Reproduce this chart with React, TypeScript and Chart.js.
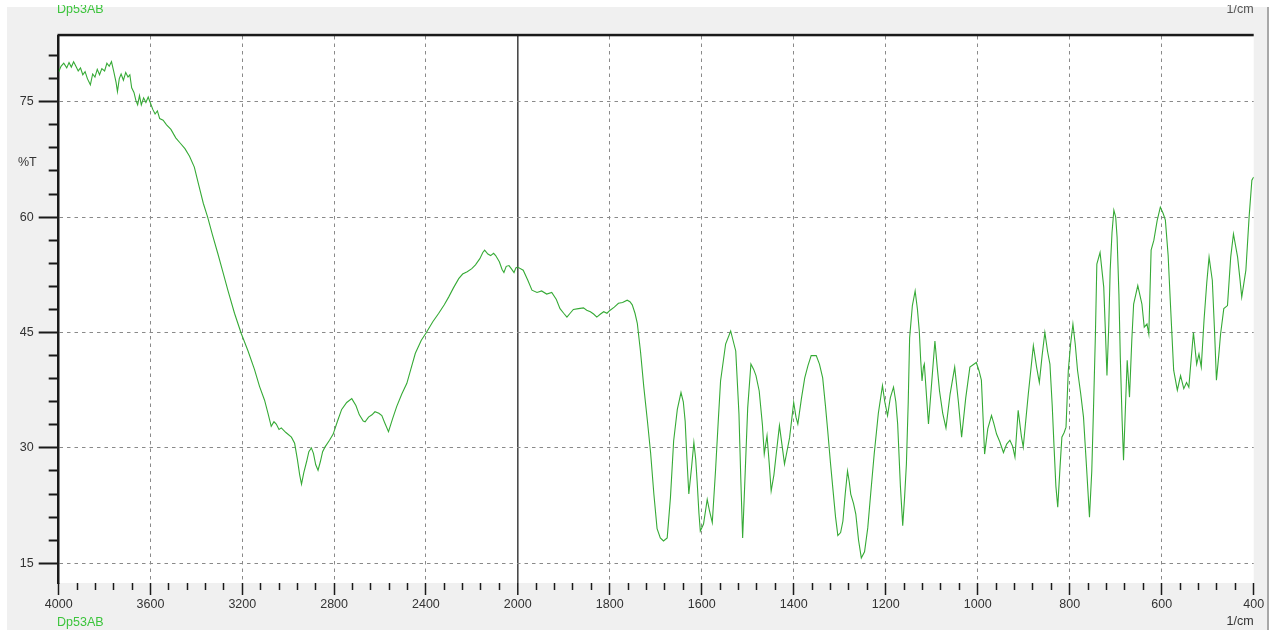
import React, { useEffect, useRef } from 'react';
import { Chart, registerables } from 'chart.js';

Chart.register(...registerables);

// ---- Data: 4000–2000 cm⁻¹ segment (left, compressed scale) ----
const HIGH_WAVENUMBERS = [
  4000, 3990, 3978, 3965, 3955, 3945, 3935, 3925, 3915, 3905, 3895, 3885, 3875, 3862, 3852, 3842,
  3832, 3822, 3812, 3800, 3790, 3780, 3770, 3760, 3750, 3744, 3736, 3728, 3718, 3708, 3698, 3690,
  3682, 3672, 3664, 3656, 3648, 3640, 3630, 3620, 3610, 3600, 3590, 3580, 3570, 3560, 3545, 3530,
  3511, 3490, 3470, 3450, 3430, 3409, 3390, 3370, 3351, 3330, 3307, 3285, 3263, 3234, 3205, 3175,
  3147, 3125, 3103, 3088, 3074, 3062, 3052, 3040, 3030, 3010, 2986, 2972, 2960, 2950, 2942, 2932,
  2920, 2910, 2899, 2890, 2880, 2870, 2860, 2850, 2840, 2820, 2804, 2785, 2767, 2745, 2723, 2705,
  2690, 2673, 2665, 2650, 2635, 2622, 2605, 2592, 2580, 2563, 2545, 2527, 2505, 2483, 2465, 2446,
  2420, 2398, 2370, 2344, 2320, 2301, 2280, 2257, 2240, 2220, 2200, 2184, 2165, 2152, 2144, 2130,
  2118, 2105, 2096, 2080, 2068, 2060, 2050, 2038, 2028, 2016, 2008, 2000,
];
const HIGH_TRANSMITTANCE = [
  78.9, 79.6, 80.0, 79.4, 80.1, 79.5, 80.2, 79.6, 79.0, 79.4, 78.5, 78.9, 78.0, 77.2, 78.6, 78.2,
  79.2, 78.5, 79.3, 79.0, 80.0, 79.6, 80.2, 78.9, 77.5, 76.3, 78.0, 78.6, 77.8, 78.8, 78.2, 78.5,
  76.8, 76.2, 75.2, 74.6, 75.8, 74.6, 75.5, 74.9, 75.6, 74.8, 74.0, 73.4, 73.8, 72.8, 72.6, 72.0,
  71.4, 70.3, 69.6, 68.9, 67.9, 66.5, 64.2, 61.8, 60.0, 57.7, 55.3, 52.9, 50.5, 47.5, 44.9, 42.6,
  40.2, 38.0, 36.2, 34.5, 32.8, 33.4, 33.1, 32.4, 32.6, 32.0, 31.4, 30.6, 28.5, 26.5, 25.3, 26.8,
  28.2, 29.5, 30.0, 29.3, 27.8, 27.1, 28.2, 29.5, 30.1, 31.0, 31.8, 33.5, 35.0, 35.9, 36.4, 35.5,
  34.3, 33.5, 33.4, 34.0, 34.3, 34.7, 34.5, 34.2, 33.3, 32.1, 33.8, 35.4, 37.0, 38.4, 40.3, 42.3,
  44.0, 45.0, 46.4, 47.5, 48.6, 49.6, 50.8, 52.0, 52.6, 52.9, 53.3, 53.8, 54.6, 55.4, 55.7, 55.2,
  55.0, 55.3, 55.0, 54.2, 53.2, 52.8, 53.6, 53.7, 53.3, 52.8, 53.4, 53.5,
];

// ---- Data: 2000–400 cm⁻¹ segment (right, expanded scale) ----
const LOW_WAVENUMBERS = [
  2000, 1988, 1978, 1969, 1958, 1948, 1937, 1926, 1916, 1908, 1900, 1893, 1886, 1879, 1868, 1857,
  1850, 1842, 1835, 1828, 1820, 1813, 1806, 1799, 1790, 1781, 1772, 1762, 1756, 1751, 1745, 1740,
  1733, 1726, 1718, 1711, 1704, 1697, 1690, 1683, 1675, 1668, 1661, 1653, 1645, 1640, 1636, 1632,
  1628, 1622, 1617, 1613, 1610, 1606, 1603, 1596, 1588, 1583, 1577, 1570, 1564, 1559, 1548, 1537,
  1526, 1519, 1515, 1511, 1505, 1500, 1493, 1487, 1482, 1475, 1468, 1464, 1458, 1453, 1449, 1443,
  1438, 1431, 1425, 1420, 1409, 1400, 1395, 1391, 1383, 1376, 1369, 1362, 1351, 1344, 1337, 1331,
  1326, 1320, 1315, 1309, 1304, 1298, 1293, 1288, 1283, 1279, 1276, 1270, 1265, 1259, 1253, 1246,
  1239, 1232, 1225, 1216, 1207, 1202, 1196, 1190, 1183, 1178, 1174, 1168, 1163, 1159, 1155, 1151,
  1148, 1142, 1136, 1131, 1127, 1124, 1121, 1118, 1116, 1111, 1107, 1100, 1093, 1088, 1083, 1076,
  1069, 1060, 1050, 1042, 1035, 1026, 1017, 1003, 997, 992, 988, 985, 978, 970, 965, 959,
  952, 944, 937, 930, 924, 919, 912, 905, 901, 890, 879, 872, 866, 860, 854, 848,
  843, 838, 834, 830, 826, 821, 817, 812, 808, 803, 798, 793, 788, 783, 776, 770,
  763, 757, 752, 748, 744, 741, 734, 726, 722, 719, 715, 712, 708, 704, 700, 697,
  693, 690, 686, 683, 679, 675, 670, 665, 661, 652, 643, 638, 632, 628, 623, 617,
  610, 603, 597, 592, 586, 581, 574, 566, 559, 552, 546, 541, 536, 531, 524, 519,
  514, 508, 502, 497, 490, 485, 481, 476, 472, 465, 457, 450, 444, 435, 430, 426,
  417, 410, 404, 400,
];
const LOW_TRANSMITTANCE = [
  53.5, 53.1, 51.8, 50.5, 50.2, 50.4, 50.0, 50.2, 49.3, 48.1, 47.5, 47.0, 47.5, 48.0, 48.1, 48.2,
  47.9, 47.7, 47.4, 47.0, 47.4, 47.7, 47.5, 47.9, 48.3, 48.8, 48.9, 49.2, 49.0, 48.6, 47.5, 46.2,
  42.5, 38.0, 33.5, 29.3, 24.0, 19.5, 18.3, 17.9, 18.3, 23.5, 30.9, 35.0, 37.2, 36.0, 33.5, 28.5,
  24.0, 27.5, 30.7, 28.5, 25.7, 21.5, 19.2, 20.1, 23.3, 21.8, 20.3, 27.0, 33.5, 38.7, 43.5, 45.2,
  42.6, 34.4, 26.0, 18.3, 27.5, 35.2, 40.9, 40.2, 39.4, 37.4, 33.0, 29.2, 31.6, 27.8, 24.4, 26.5,
  29.2, 32.9, 30.2, 27.9, 31.3, 35.9, 34.0, 33.1, 36.5, 39.1, 40.7, 42.0, 42.0, 40.9, 39.1, 35.5,
  32.2, 28.0, 24.8, 21.0, 18.6, 19.0, 20.5, 24.0, 27.0, 25.5, 24.0, 22.8, 21.4, 18.0, 15.7, 16.5,
  19.6, 24.5, 29.2, 34.5, 38.1, 36.0, 34.2, 36.5, 37.9, 36.0, 33.1, 25.0, 19.9, 23.5, 27.9, 36.0,
  44.3, 48.5, 50.4, 48.0, 45.2, 41.5, 38.7, 40.5, 40.9, 36.5, 33.1, 38.5, 43.9, 40.5, 37.4, 34.5,
  32.6, 37.0, 40.5, 36.0, 31.4, 36.5, 40.5, 41.1, 40.0, 38.8, 33.5, 29.2, 32.5, 34.2, 33.2, 31.8,
  30.8, 29.4, 30.5, 31.0, 30.2, 28.8, 34.9, 31.5, 30.1, 37.0, 43.3, 40.5, 38.5, 42.0, 45.0, 42.5,
  40.9, 35.5, 30.1, 25.0, 22.3, 27.5, 31.4, 32.0, 32.7, 40.1, 43.5, 46.1, 43.5, 40.1, 37.0, 34.0,
  27.1, 21.0, 27.0, 35.7, 45.0, 53.9, 55.4, 50.9, 44.5, 39.4, 46.0, 53.1, 58.0, 60.9, 60.0, 57.4,
  50.0, 41.8, 33.5, 28.4, 35.0, 41.4, 36.6, 44.0, 48.7, 51.1, 48.7, 45.7, 46.1, 44.8, 55.7, 57.0,
  59.5, 61.3, 60.5, 59.6, 55.0, 48.7, 40.1, 37.5, 39.4, 37.7, 38.5, 37.9, 41.5, 45.0, 40.9, 42.2,
  40.5, 46.6, 51.5, 54.8, 51.8, 45.0, 38.8, 42.0, 44.8, 48.1, 48.5, 54.8, 57.8, 54.8, 52.0, 49.6,
  53.1, 60.0, 64.8, 65.2,
];

// ---- Axis ticks / labels ----
const Y_TICKS = [15, 18, 21, 24, 27, 30, 33, 36, 39, 42, 45, 48, 51, 54, 57, 60, 63, 66, 69, 72, 75, 78, 81];
const Y_LABELS = [15, 30, 45, 60, 75];
const HIGH_X_TICKS = [
  4000, 3920, 3840, 3760, 3680, 3600, 3520, 3440, 3360, 3280, 3200, 3120, 3040, 2960, 2880, 2800,
  2720, 2640, 2560, 2480, 2400, 2320, 2240, 2160, 2080,
];
const HIGH_X_LABELS = [4000, 3600, 3200, 2800, 2400];
const HIGH_X_GRID = [3600, 3200, 2800, 2400];
const LOW_X_TICKS = [
  2000, 1960, 1920, 1880, 1840, 1800, 1760, 1720, 1680, 1640, 1600, 1560, 1520, 1480, 1440, 1400,
  1360, 1320, 1280, 1240, 1200, 1160, 1120, 1080, 1040, 1000, 960, 920, 880, 840, 800, 760,
  720, 680, 640, 600, 560, 520, 480, 440, 400,
];
const LOW_X_LABELS = [2000, 1800, 1600, 1400, 1200, 1000, 800, 600, 400];
const LOW_X_GRID = [1800, 1600, 1400, 1200, 1000, 800, 600];

const SAMPLE_NAME = 'Dp53AB';
const X_UNIT = '1/cm';
const Y_UNIT = '%T';

const W = 1272;
const H = 632;
const FONT = '"Liberation Sans", Arial, sans-serif';
const FONT_SIZE = 12.5;
const LABEL_COLOR = '#333333';
const GRID_COLOR = '#8a8a8a';
const LINE_COLOR = '#36aa36';
const NAME_COLOR = '#3cc43c';
const TRANSPARENT = 'rgba(0,0,0,0)';

const framePlugin = {
  id: 'irFrame',
  beforeDraw(chart: any) {
    const { ctx, chartArea: a } = chart;
    ctx.save();
    ctx.fillStyle = '#ffffff';
    ctx.fillRect(0, 0, W, H);
    ctx.fillStyle = '#f0f0f0';
    ctx.fillRect(7, 7, 1261, 623);
    ctx.fillStyle = '#ffffff';
    ctx.fillRect(a.left, a.top, a.right - a.left, a.bottom - a.top);
    ctx.strokeStyle = '#a8a8a8';
    ctx.lineWidth = 2;
    ctx.beginPath();
    ctx.moveTo(1268, 7);
    ctx.lineTo(1268, 630);
    ctx.stroke();
    ctx.restore();
  },
  afterDraw(chart: any) {
    const { ctx, chartArea: a } = chart;
    ctx.save();
    ctx.fillStyle = '#1a1a1a';
    ctx.fillRect(a.left - 1.2, a.top - 2.2, a.right - a.left + 1.2, 2.5);
    ctx.font = `${FONT_SIZE}px ${FONT}`;
    ctx.textBaseline = 'alphabetic';
    // bottom / side texts
    ctx.fillStyle = NAME_COLOR;
    ctx.textAlign = 'left';
    ctx.fillText(SAMPLE_NAME, 57, 626);
    ctx.fillStyle = LABEL_COLOR;
    ctx.textAlign = 'right';
    ctx.fillText(X_UNIT, a.right, 625);
    ctx.textAlign = 'left';
    ctx.fillText(Y_UNIT, 18, 166);
    // header texts, partly cut off at the top edge
    ctx.beginPath();
    ctx.rect(0, 5, W, 20);
    ctx.clip();
    ctx.fillStyle = NAME_COLOR;
    ctx.textAlign = 'left';
    ctx.fillText(SAMPLE_NAME, 57, 13);
    ctx.fillStyle = '#555555';
    ctx.textAlign = 'right';
    ctx.fillText(X_UNIT, a.right, 13);
    ctx.restore();
  },
};

function tickFont() {
  return { family: FONT, size: FONT_SIZE };
}

export default function App() {
  const canvasRef = useRef<HTMLCanvasElement | null>(null);

  useEffect(() => {
    const canvas = canvasRef.current;
    if (!canvas) return;
    const highData = HIGH_WAVENUMBERS.map((w, i) => ({ x: w, y: HIGH_TRANSMITTANCE[i] }));
    const lowData = LOW_WAVENUMBERS.map((w, i) => ({ x: w, y: LOW_TRANSMITTANCE[i] }));

    const chart = new Chart(canvas, {
      type: 'line',
      data: {
        datasets: [
          {
            label: SAMPLE_NAME,
            data: highData,
            xAxisID: 'xHigh',
            yAxisID: 'y',
            borderColor: LINE_COLOR,
            borderWidth: 1.1,
            pointRadius: 0,
            tension: 0,
            fill: false,
          },
          {
            label: SAMPLE_NAME,
            data: lowData,
            xAxisID: 'xLow',
            yAxisID: 'y',
            borderColor: LINE_COLOR,
            borderWidth: 1.1,
            pointRadius: 0,
            tension: 0,
            fill: false,
          },
        ],
      },
      options: {
        animation: false,
        responsive: false,
        devicePixelRatio: 1,
        layout: { padding: { left: 0, top: 36, right: 18.3, bottom: 0 } },
        plugins: {
          legend: { display: false },
          tooltip: { enabled: false },
        },
        scales: {
          xHigh: {
            type: 'linear',
            position: 'bottom',
            stack: 'wavenumber',
            stackWeight: 459,
            min: 2000,
            max: 4000,
            reverse: true,
            afterBuildTicks: (s: any) => {
              s.ticks = HIGH_X_TICKS.map((value) => ({ value }));
            },
            afterFit: (s: any) => {
              s.height = 49;
            },
            grid: {
              color: (c: any) => (c.tick && HIGH_X_GRID.includes(c.tick.value) ? GRID_COLOR : TRANSPARENT),
              lineWidth: 1,
              drawTicks: true,
              tickLength: 12,
              tickWidth: 1.5,
              tickColor: '#1a1a1a',
              tickBorderDash: (c: any) => (c.tick && HIGH_X_LABELS.includes(c.tick.value) ? [] : [7, 40]),
            },
            border: { display: false, dash: [3.5, 4] },
            ticks: {
              autoSkip: false,
              maxRotation: 0,
              minRotation: 0,
              padding: 2.5,
              color: LABEL_COLOR,
              font: tickFont(),
              callback: (v: any) => (HIGH_X_LABELS.includes(v) ? String(v) : ''),
            },
          },
          xLow: {
            type: 'linear',
            position: 'bottom',
            stack: 'wavenumber',
            stackWeight: 736,
            min: 400,
            max: 2000,
            reverse: true,
            afterBuildTicks: (s: any) => {
              s.ticks = LOW_X_TICKS.map((value) => ({ value }));
            },
            afterFit: (s: any) => {
              s.height = 49;
            },
            grid: {
              color: (c: any) => {
                if (!c.tick) return TRANSPARENT;
                if (c.tick.value === 2000) return '#4a4a4a';
                return LOW_X_GRID.includes(c.tick.value) ? GRID_COLOR : TRANSPARENT;
              },
              lineWidth: (c: any) => (c.tick && c.tick.value === 2000 ? 1.6 : 1),
              drawTicks: true,
              tickLength: 12,
              tickWidth: 1.5,
              tickColor: '#1a1a1a',
              tickBorderDash: (c: any) => (c.tick && LOW_X_LABELS.includes(c.tick.value) ? [] : [7, 40]),
            },
            border: {
              display: false,
              dash: (c: any) => (c.tick && c.tick.value === 2000 ? [] : [3.5, 4]),
            },
            ticks: {
              autoSkip: false,
              maxRotation: 0,
              minRotation: 0,
              padding: 2.5,
              color: LABEL_COLOR,
              font: tickFont(),
              callback: (v: any) => (LOW_X_LABELS.includes(v) ? String(v) : ''),
            },
          },
          y: {
            type: 'linear',
            position: 'left',
            min: 12.44,
            max: 83.54,
            afterBuildTicks: (s: any) => {
              s.ticks = Y_TICKS.map((value) => ({ value }));
            },
            afterFit: (s: any) => {
              s.width = 58.7;
            },
            grid: {
              color: (c: any) => (c.tick && Y_LABELS.includes(c.tick.value) ? GRID_COLOR : TRANSPARENT),
              lineWidth: 1,
              drawTicks: true,
              tickLength: 20,
              tickWidth: 2,
              tickColor: '#1a1a1a',
              tickBorderDash: (c: any) => (c.tick && Y_LABELS.includes(c.tick.value) ? [] : [10, 10]),
              tickBorderDashOffset: (c: any) => (c.tick && Y_LABELS.includes(c.tick.value) ? 0 : 10),
            },
            border: { display: true, color: '#1a1a1a', width: 2.5, dash: [3.5, 4] },
            ticks: {
              autoSkip: false,
              padding: 5,
              color: LABEL_COLOR,
              font: tickFont(),
              callback: (v: any) => (Y_LABELS.includes(v) ? String(v) : ''),
            },
          },
        },
      },
      plugins: [framePlugin],
    } as any);

    return () => {
      chart.destroy();
    };
  }, []);

  return (
    <canvas
      ref={canvasRef}
      width={W}
      height={H}
      style={{ position: 'fixed', left: 0, top: 0, width: W, height: H, display: 'block' }}
    />
  );
}
